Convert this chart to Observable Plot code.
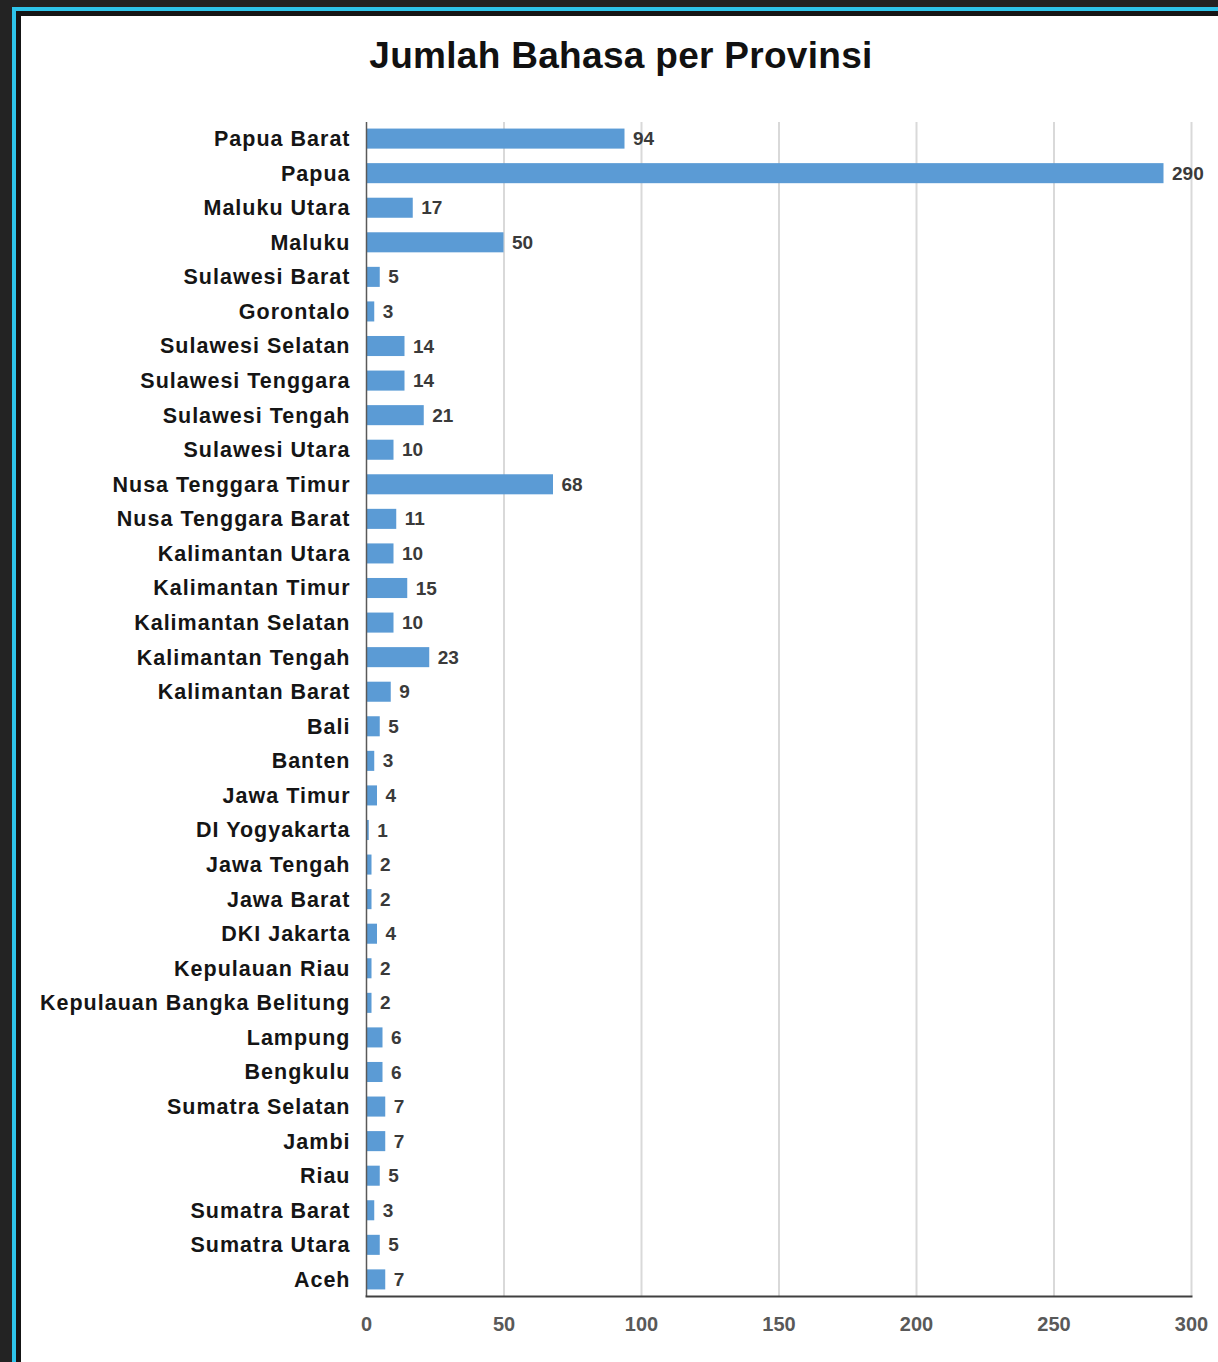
<!DOCTYPE html>
<html>
<head>
<meta charset="utf-8">
<script src="https://cdn.jsdelivr.net/npm/d3@7"></script>
<script src="https://cdn.jsdelivr.net/npm/@observablehq/plot@0.6"></script>
<style>
  html, body { margin: 0; padding: 0; background: #232323; width: 1218px; height: 1362px; overflow: hidden; }
  #frame { position: absolute; left: 12px; top: 7px; width: 1230px; height: 1360px;
           border-top: 4px solid #2ec4ea; border-left: 4px solid #2ec4ea; box-sizing: border-box; }
  #inner { position: absolute; left: 0; top: 0; right: 0; bottom: 0;
           border-top: 5px solid #151515; border-left: 5px solid #151515; border-bottom: 4px solid #3a3a3a;
           background: #fff; }
  #title { position: absolute; left: 22px; width: 1198px; top: 35px; text-align: center;
           font: bold 37px "Liberation Sans", Arial, sans-serif; color: #111; letter-spacing: 0.3px; }
  #chart { position: absolute; left: 22px; top: 100px; }
</style>
</head>
<body>
<div id="frame"><div id="inner"></div></div>
<div id="title">Jumlah Bahasa per Provinsi</div>
<div id="chart"></div>
<script>
const provinces = ["Papua Barat","Papua","Maluku Utara","Maluku","Sulawesi Barat","Gorontalo","Sulawesi Selatan","Sulawesi Tenggara","Sulawesi Tengah","Sulawesi Utara","Nusa Tenggara Timur","Nusa Tenggara Barat","Kalimantan Utara","Kalimantan Timur","Kalimantan Selatan","Kalimantan Tengah","Kalimantan Barat","Bali","Banten","Jawa Timur","DI Yogyakarta","Jawa Tengah","Jawa Barat","DKI Jakarta","Kepulauan Riau","Kepulauan Bangka Belitung","Lampung","Bengkulu","Sumatra Selatan","Jambi","Riau","Sumatra Barat","Sumatra Utara","Aceh"];
const languageCounts = [94,290,17,50,5,3,14,14,21,10,68,11,10,15,10,23,9,5,3,4,1,2,2,4,2,2,6,6,7,7,5,3,5,7];
const xTicks = [0,50,100,150,200,250,300];

const data = provinces.map((p, i) => ({province: p, count: languageCounts[i]}));
const font = "Liberation Sans, Arial, sans-serif";

const chart = Plot.plot({
  width: 1196,
  height: 1250,
  marginLeft: 344,
  marginRight: 27,
  marginTop: 22,
  marginBottom: 54,
  style: {background: "transparent", overflow: "visible"},
  x: {domain: [0, 300], ticks: xTicks, label: null},
  y: {domain: provinces, paddingInner: 0.42, paddingOuter: 0.19, round: false, label: null},
  marks: [
    Plot.gridX(xTicks.filter(t => t > 0), {stroke: "#d9d9d9", strokeOpacity: 1, strokeWidth: 2}),
    Plot.barX(data, {x: "count", y: "province", fill: "#5b9bd5"}),
    Plot.text(data, {x: "count", y: "province", text: d => String(d.count), textAnchor: "start", dx: 8,
      fill: "#3a3a3a", fontSize: 19, fontWeight: "bold", fontFamily: font}),
    Plot.ruleX([0], {stroke: "#595959", strokeWidth: 1.5}),
    Plot.frame({anchor: "bottom", stroke: "#404040", strokeWidth: 2}),
    Plot.axisX({ticks: xTicks, tickSize: 0, tickPadding: 20, fontSize: 20, fontWeight: "bold",
      fill: "#595959", fontFamily: font, label: null}),
    Plot.axisY({tickSize: 0, tickPadding: 16, fontSize: 21.5, fontWeight: "bold",
      fill: "#151515", fontFamily: font, label: null})
  ]
});
chart.querySelectorAll("[aria-label='y-axis tick label'] text, [aria-label='y-axis tick label']").forEach(el => el.setAttribute("letter-spacing", "1"));
document.getElementById("chart").appendChild(chart);
</script>
</body>
</html>
